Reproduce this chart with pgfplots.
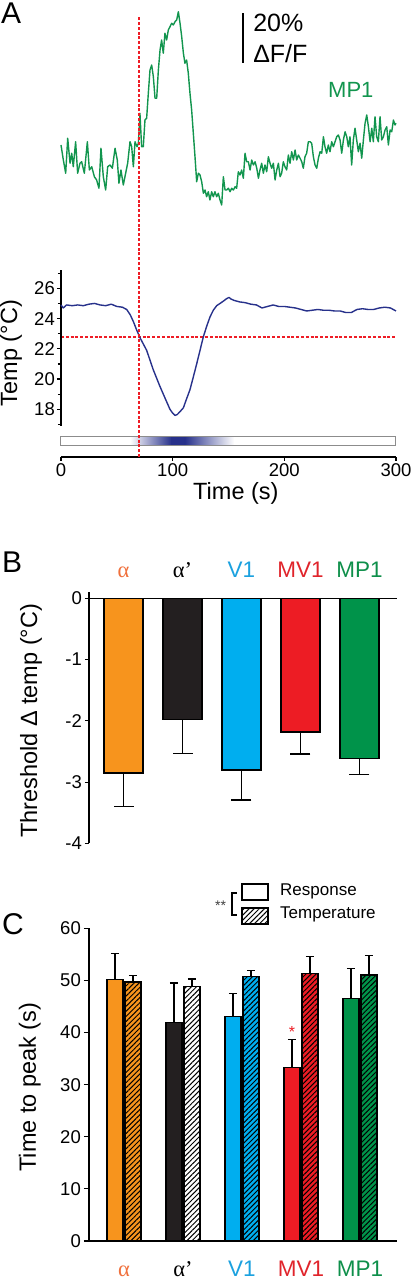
\documentclass[border=0pt]{standalone}
\usepackage{fontspec}
\setmainfont{Liberation Sans}
\newfontfamily\serifgreek{Liberation Serif}
\usepackage{pgfplots}
\pgfplotsset{compat=1.18}
\usetikzlibrary{patterns.meta}

\definecolor{orangebar}{HTML}{F7941D}
\definecolor{blackbar}{HTML}{231F20}
\definecolor{cyanbar}{HTML}{00AEEF}
\definecolor{redbar}{HTML}{ED1C24}
\definecolor{greenbar}{HTML}{00934A}
\definecolor{tracegreen}{HTML}{12954E}
\definecolor{tempblue}{HTML}{27318B}
\definecolor{refred}{HTML}{EE1C25}
\definecolor{barframe}{HTML}{8C8C8C}
\definecolor{alphalab}{HTML}{F0703C}
\definecolor{vonelab}{HTML}{1BA1DF}
\definecolor{mvlab}{HTML}{E0242B}
\definecolor{mplab}{HTML}{0E8F4A}

\newcommand\tickfont{\fontsize{18.5}{20}\selectfont}
\newcommand\labfont{\fontsize{23.5}{26}\selectfont}
\newcommand\catfont{\fontsize{22.5}{24}\selectfont}
\newcommand\letterfont{\fontsize{30}{32}\selectfont}

\pgfplotsset{
  ebB/.style={error bars/y dir=minus, error bars/y explicit,
    error bars/error mark=|,
    error bars/error bar style={line width=1.3pt,black},
    error bars/error mark options={line width=1.3pt, mark size=10pt, black}},
  ebC/.style={error bars/y dir=plus, error bars/y explicit,
    error bars/error mark=|,
    error bars/error bar style={line width=1.3pt,black},
    error bars/error mark options={line width=1.3pt, mark size=4.2pt, black}},
  hatch/.style={postaction={pattern={Lines[angle=45,distance=3.6pt,line width=1pt]}, pattern color=black}},
}

\pgfplotstableread{
t v
0 8.0
2.1 2.0
4.2 -3.3
6.0 10.7
8.1 0.7
9.6 4.7
11.0 -0.7
13.1 9.3
14.9 -3.3
17.0 0.7
18.5 1.3
20.9 -3.3
23.6 9.3
25.4 -2.0
27.5 -0.7
29.9 -4.7
31.9 -6.0
34.0 -9.3
35.8 6.7
37.9 -4.7
40.0 -10.0
41.8 -0.7
43.9 0.0
46.0 -1.3
48.4 6.7
50.4 2.0
51.9 -7.3
53.7 -2.0
55.8 -8.0
57.9 -3.3
59.7 0.7
61.8 9.3
63.3 7.3
64.8 -0.7
66.3 9.3
68.1 7.3
69.3 8.7
70.7 20.7
72.2 7.3
73.7 7.3
75.2 18.0
76.7 18.7
78.2 28.7
79.7 38.0
81.2 40.0
82.7 35.3
84.2 26.7
85.7 26.7
87.2 38.0
88.7 46.0
90.1 50.0
91.6 44.7
93.1 52.7
94.6 50.0
96.1 54.0
97.6 55.3
99.1 56.7
100.6 56.0
102.1 57.3
103.6 58.0
105.1 61.3
106.6 56.7
108.1 51.3
109.6 44.7
111.0 40.7
112.5 42.0
114.0 36.7
115.5 28.7
117.0 22.0
118.5 12.7
120.0 3.3
121.5 -6.7
123.0 -3.3
124.5 -4.0
126.0 -6.7
127.5 -11.3
129.0 -10.0
130.4 -12.7
131.9 -10.7
133.4 -14.0
134.9 -10.7
136.4 -12.7
137.9 -10.7
139.4 -12.7
140.9 -11.3
142.4 -14.0
143.9 -16.0
145.4 -4.7
146.9 -10.0
148.4 -10.0
149.9 -9.3
151.4 -10.7
152.9 -9.3
154.4 -10.0
155.9 -8.7
157.3 -9.3
158.8 -2.7
160.3 -4.0
161.8 -2.0
163.3 -5.3
164.8 4.7
166.3 1.3
167.8 1.3
169.3 -2.0
170.8 2.0
172.3 0.0
173.8 1.3
175.3 -1.3
176.8 -5.3
178.2 -2.0
179.7 0.7
181.2 -3.3
182.7 0.0
184.2 -2.7
185.7 3.3
187.2 0.7
188.7 -1.3
190.2 0.7
191.7 -6.0
193.2 -2.0
194.7 0.7
196.2 -4.7
197.6 -3.3
199.1 1.3
200.6 -0.7
202.1 -2.0
203.6 4.0
205.1 0.7
206.6 5.3
208.1 2.0
209.6 6.0
211.1 2.0
212.6 4.0
214.1 2.7
215.6 1.3
217.0 -1.3
218.5 3.3
220.0 4.7
221.5 9.3
223.0 9.3
224.5 8.7
226.0 3.3
227.5 0.0
229.0 -1.3
230.5 2.7
232.0 5.3
233.5 4.7
235.0 11.3
236.4 7.3
237.9 4.7
239.4 8.0
240.9 5.3
242.4 9.3
243.9 7.3
245.4 9.3
246.9 11.3
248.4 12.0
249.9 10.0
251.4 4.7
252.9 10.0
254.4 13.3
255.9 11.3
257.3 7.3
258.8 11.3
260.3 0.0
261.8 10.0
263.3 14.7
264.8 10.0
266.3 5.3
267.8 8.7
269.3 2.7
270.8 10.0
272.3 16.7
273.8 20.0
275.3 15.3
276.8 9.3
278.3 14.7
279.7 9.3
281.2 19.3
282.7 11.3
284.2 9.3
285.7 19.3
287.2 10.0
288.7 11.3
290.2 14.0
291.7 15.3
293.2 8.0
294.7 14.0
296.2 13.3
297.7 18.0
299.1 16.0
300.0 16.7
}\tracetable

\pgfplotstableread{
t T
0 24.9
2 24.7
5 24.9
10 24.85
15 24.9
20 24.85
25 24.95
30 25.0
35 24.9
40 24.85
45 24.95
50 24.8
55 24.75
58.8 24.6
62 24.25
64.8 23.8
68 23.2
71 22.7
76.7 21.9
82.7 20.6
88.7 19.5
94.6 18.5
97.6 18.0
100 17.75
102 17.6
104 17.65
106 17.8
109.6 18.1
112 18.6
115.5 19.3
118 20.0
121.5 21.0
124.5 21.9
127.5 22.8
130.5 23.5
133.4 24.1
136.4 24.55
139.4 24.85
142.4 25.0
145.4 25.15
148 25.3
150.5 25.4
152 25.3
155 25.2
160 25.1
165 25.05
170 24.95
175 24.9
180 24.7
185 24.8
190 24.9
195 24.8
200 24.8
205 24.75
210 24.7
215 24.6
220 24.5
225 24.55
230 24.6
235 24.55
240 24.55
245 24.5
250 24.5
255 24.4
260 24.4
265 24.6
270 24.65
275 24.6
280 24.6
285 24.7
290 24.75
295 24.7
300 24.5
}\temptable

\begin{document}
\begin{tikzpicture}[x=1pt,y=1pt]
\path[use as bounding box] (0,0) rectangle (410,1280);

% ---------------- Panel A: fluorescence trace
\begin{axis}[at={(61pt,1065pt)}, anchor=south west, scale only axis,
  width=335pt, height=210pt, xmin=0, xmax=300, ymin=-20, ymax=64,
  hide axis, clip=false]
\addplot[tracegreen, line width=1.4pt, line join=round, mark=none] table[x=t,y=v] {\tracetable};
\draw[black, line width=1.5pt] (axis cs:163,40.8) -- (axis cs:163,60.8);
\node[anchor=base west, inner sep=0pt, font=\fontsize{25}{27}\selectfont] at (axis cs:172,53.2) {20\%};
\node[anchor=base west, inner sep=0pt, font=\fontsize{25}{27}\selectfont] at (axis cs:172,40.8) {ΔF/F};
\node[anchor=base west, inner sep=0pt, text=tracegreen, font=\fontsize{22}{24}\selectfont] at (axis cs:239.1,26.8) {MP1};
\end{axis}

% ---------------- Panel A: temperature
\begin{axis}[at={(61pt,823pt)}, anchor=south west, scale only axis,
  width=335pt, height=187pt, xmin=0, xmax=300, ymin=14.85, ymax=27.21,
  axis x line*=bottom, axis y line*=left, y axis line style={draw=none},
  axis line style={line width=1.2pt},
  xtick={0,100,200,300}, ytick={18,20,22,24,26}, minor ytick={17,19,...,27},
  tick align=outside, major tick length=4pt, minor tick length=3pt,
  tick style={black, line width=1.2pt},
  ticklabel style={font=\tickfont, inner sep=2pt},
  /pgf/number format/assume math mode=true,
  xlabel={Time (s)}, ylabel={Temp (°C)},
  every axis x label/.style={at={(axis description cs:0.522,-0.193)}, anchor=center, font=\labfont},
  every axis y label/.style={at={(axis description cs:-0.149,0.556)}, rotate=90, anchor=center, font=\labfont},
  clip=false]
\draw[draw=refred, line width=2pt, line cap=butt, dash pattern=on 3pt off 1.8pt] (axis cs:0,22.75) -- (axis cs:300,22.75);
\draw[black, line width=1.2pt] (axis cs:0,16.9) -- (axis cs:0,27.21);
\addplot[tempblue, line width=1.4pt, line join=round, mark=none] table[x=t,y=T] {\temptable};
\fill[white] (axis cs:0,15.64) rectangle (axis cs:300,16.235);
\shade[left color=white, right color=tempblue] (axis cs:62,15.64) rectangle (axis cs:99,16.235);
\fill[tempblue] (axis cs:98.8,15.64) rectangle (axis cs:111.2,16.235);
\shade[left color=tempblue, right color=white] (axis cs:111,15.64) rectangle (axis cs:155,16.235);
\draw[draw=barframe, line width=1pt] (axis cs:0,15.64) rectangle (axis cs:300,16.235);
\draw[draw=refred, line width=1.6pt, line cap=butt, dash pattern=on 3pt off 1.8pt] (axis cs:70,14.85) -- ++(0pt,440pt);
\end{axis}

% ---------------- Panel B
\begin{axis}[at={(89pt,436.5pt)}, anchor=south west, scale only axis,
  width=308pt, height=245.2pt, xmin=-0.585, xmax=4.636, ymin=-4, ymax=0,
  axis x line*=top, axis y line*=left, axis line style={line width=1.2pt},
  ybar, bar width=39pt,
  ytick={-4,-3,-2,-1,0}, yticklabels={-4,-3,-2,-1,0},
  xtick={0,1,2,3,4},
  xticklabels={{\color{alphalab}\serifgreek α}, {\color{black}\serifgreek α’}, {\color{vonelab}V1}, {\color{mvlab}MV1}, {\color{mplab}MP1}},
  xtick style={draw=none},
  tick align=outside, major tick length=4pt,
  tick style={black, line width=1.2pt},
  yticklabel style={font=\tickfont, inner sep=3pt},
  xticklabel style={font=\catfont, anchor=base, yshift=16.6pt},
  ylabel={Threshold Δ temp (°C)},
  every axis y label/.style={at={(axis description cs:-0.188,0.5)}, rotate=90, anchor=center, font=\labfont},
  clip=false]
\draw[line width=1.2pt] (axis cs:-0.585,0) -- ++(0pt,6.6pt);
\addplot[fill=orangebar, draw=black, line width=1.2pt, bar shift=0pt, ebB] coordinates {(0,-2.85) -= (0,0.55)};
\addplot[fill=blackbar, draw=black, line width=1.2pt, bar shift=0pt, ebB] coordinates {(1,-1.98) -= (0,0.55)};
\addplot[fill=cyanbar, draw=black, line width=1.2pt, bar shift=0pt, ebB] coordinates {(2,-2.80) -= (0,0.49)};
\addplot[fill=redbar, draw=black, line width=1.2pt, bar shift=0pt, ebB] coordinates {(3,-2.18) -= (0,0.36)};
\addplot[fill=greenbar, draw=black, line width=1.2pt, bar shift=0pt, ebB] coordinates {(4,-2.61) -= (0,0.26)};
\end{axis}

% ---------------- Panel C
\begin{axis}[at={(89pt,39pt)}, anchor=south west, scale only axis,
  width=308pt, height=312.7pt, xmin=-0.593, xmax=4.627, ymin=0, ymax=60,
  axis x line*=bottom, axis y line*=left, axis line style={line width=1.2pt},
  ybar, bar width=16pt,
  ytick={0,10,...,60},
  xtick={0,1,2,3,4},
  xticklabels={{\color{alphalab}\serifgreek α}, {\color{black}\serifgreek α’}, {\color{vonelab}V1}, {\color{mvlab}MV1}, {\color{mplab}MP1}},
  xtick style={draw=none},
  tick align=outside, major tick length=5pt,
  tick style={black, line width=1.2pt},
  yticklabel style={font=\tickfont, inner sep=3pt},
  xticklabel style={font=\catfont, anchor=base, inner sep=0pt, yshift=-30pt},
  /pgf/number format/assume math mode=true,
  ylabel={Time to peak (s)},
  every axis y label/.style={at={(axis description cs:-0.192,0.492)}, rotate=90, anchor=center, font=\labfont},
  clip=false]
\addplot[fill=orangebar, draw=black, line width=1.2pt, bar shift=-9pt, ebC] coordinates {(0,50.1) += (0,5.0)};
\addplot[fill=orangebar, draw=black, line width=1.2pt, bar shift=9pt, ebC, hatch] coordinates {(0,49.7) += (0,1.3)};
\addplot[fill=blackbar, draw=black, line width=1.2pt, bar shift=-9pt, ebC] coordinates {(1,42.0) += (0,7.5)};
\addplot[fill=white, draw=black, line width=1.2pt, bar shift=9pt, ebC, hatch] coordinates {(1,48.8) += (0,1.5)};
\addplot[fill=cyanbar, draw=black, line width=1.2pt, bar shift=-9pt, ebC] coordinates {(2,43.0) += (0,4.5)};
\addplot[fill=cyanbar, draw=black, line width=1.2pt, bar shift=9pt, ebC, hatch] coordinates {(2,50.7) += (0,1.25)};
\addplot[fill=redbar, draw=black, line width=1.2pt, bar shift=-9pt, ebC] coordinates {(3,33.3) += (0,5.3)};
\addplot[fill=redbar, draw=black, line width=1.2pt, bar shift=9pt, ebC, hatch] coordinates {(3,51.4) += (0,3.2)};
\addplot[fill=greenbar, draw=black, line width=1.2pt, bar shift=-9pt, ebC] coordinates {(4,46.5) += (0,5.8)};
\addplot[fill=greenbar, draw=black, line width=1.2pt, bar shift=9pt, ebC, hatch] coordinates {(4,51.05) += (0,3.75)};
\node[anchor=base, text=redbar, inner sep=0pt, font=\fontsize{16}{16}\selectfont] at (axis cs:3,39.1) [xshift=-9pt] {*};
\end{axis}

% ---------------- Legend of panel C
\draw[line width=1.2pt, fill=white] (242,380) rectangle (268,396);
\draw[line width=1.2pt, fill=white, postaction={pattern={Lines[angle=45,distance=3.6pt,line width=1pt]}, pattern color=black}] (242,356) rectangle (268,372);
\node[anchor=base west, inner sep=0pt, font=\fontsize{17}{19}\selectfont] at (280,384) {Response};
\node[anchor=base west, inner sep=0pt, font=\fontsize{17}{19}\selectfont] at (280,361) {Temperature};
\draw[line width=1.1pt] (236.5,387) -- (232,387) -- (232,365) -- (236.5,365);
\node[anchor=base, inner sep=0pt, text=black!75, font=\fontsize{14}{14}\selectfont] at (220.5,369) {**};

% ---------------- Panel letters
\node[anchor=base west, inner sep=0pt, font=\letterfont] at (1,1256) {A};
\node[anchor=base west, inner sep=0pt, font=\letterfont] at (2,707) {B};
\node[anchor=base west, inner sep=0pt, font=\letterfont] at (2,345) {C};
\end{tikzpicture}
\end{document}
